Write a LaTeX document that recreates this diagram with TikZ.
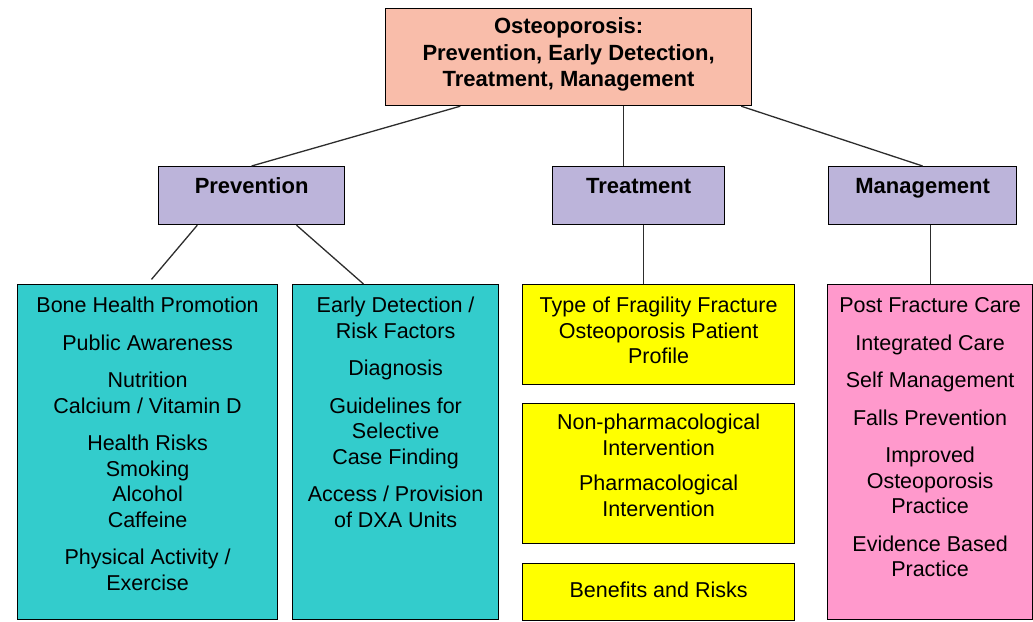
\documentclass[tikz,border=0pt]{standalone}
\usepackage{fontspec}
\setmainfont{Liberation Sans}
\usetikzlibrary{calc}

\definecolor{titlepink}{RGB}{249,189,170}
\definecolor{headpurple}{RGB}{188,180,218}
\definecolor{prevcyan}{RGB}{51,204,204}
\definecolor{treatyellow}{RGB}{255,255,0}
\definecolor{mgmtpink}{RGB}{255,153,204}
\definecolor{linegray}{RGB}{45,45,45}

% box text: [first baseline]{width}{height}{lines}
\newcommand{\boxtext}[4][28pt]{\parbox[t][#3][t]{#2}{\centering\rule{0pt}{#1}#4}}
\newcommand{\grp}{\\[12pt]}

\tikzset{
  box/.style={draw=black, line width=1.2pt, anchor=north west, inner sep=0pt,
    font=\fontsize{21.5}{25.5}\selectfont},
  head/.style={box, font=\fontsize{22}{26.5}\selectfont\bfseries},
  link/.style={draw=linegray, line width=1.3pt}
}

\begin{document}
\begin{tikzpicture}[x=1pt,y=-1pt]
  \useasboundingbox (0,0) rectangle (1033,621);

  \node[head, fill=titlepink] (top) at (385,8)
    {\boxtext[25pt]{366pt}{97pt}{Osteoporosis:\\Prevention, Early Detection,\\Treatment, Management}};

  \node[head, fill=headpurple] (prev)  at (158,166) {\boxtext[27pt]{186pt}{58pt}{Prevention}};
  \node[head, fill=headpurple] (treat) at (552,166) {\boxtext[27pt]{172pt}{58pt}{Treatment}};
  \node[head, fill=headpurple] (mgmt)  at (828,166) {\boxtext[27pt]{188pt}{58pt}{Management}};

  \node[box, fill=prevcyan] (promo) at (17,284)
    {\boxtext{260pt}{335pt}{Bone Health Promotion\grp Public Awareness\grp Nutrition\\Calcium / Vitamin D\grp
      Health Risks\\Smoking\\Alcohol\\Caffeine\grp Physical Activity /\\Exercise}};
  \node[box, fill=prevcyan] (detect) at (292,284)
    {\boxtext{206pt}{335pt}{Early Detection /\\Risk Factors\grp Diagnosis\grp Guidelines for\\Selective\\Case Finding\grp
      Access / Provision\\of DXA Units}};

  \node[box, fill=treatyellow] (fract) at (522,284)
    {\boxtext{272pt}{100pt}{Type of Fragility Fracture\\Osteoporosis Patient\\Profile}};
  \node[box, fill=treatyellow] (interv) at (522,403)
    {\boxtext[26pt]{272pt}{140pt}{Non-pharmacological\\Intervention\\[10pt]Pharmacological\\Intervention}};
  \node[box, fill=treatyellow] (risks) at (522,563)
    {\boxtext[34pt]{272pt}{57pt}{Benefits and Risks}};

  \node[box, fill=mgmtpink] (care) at (827,284)
    {\boxtext{205pt}{335pt}{Post Fracture Care\grp Integrated Care\grp Self Management\grp Falls Prevention\grp
      Improved\\Osteoporosis\\Practice\grp Evidence Based\\Practice}};

  % Lines
  \coordinate (tt) at ($(top.south west)!0.65!(top.south east)$);
  \coordinate (tr) at ($(treat.south west)!0.53!(treat.south east)$);
  \coordinate (mg) at ($(mgmt.south west)!0.54!(mgmt.south east)$);
  \draw[link] ($(top.south west)!0.205!(top.south east)$) -- (prev.north);
  \draw[link] (tt) -- (tt |- treat.north);
  \draw[link] ($(top.south west)!0.97!(top.south east)$) -- (mgmt.north);
  \draw[link, shorten >=6pt] ($(prev.south west)!0.21!(prev.south east)$) -- (promo.north);
  \draw[link] ($(prev.south west)!0.74!(prev.south east)$) -- ($(detect.north west)!0.345!(detect.north east)$);
  \draw[link] (tr) -- (tr |- fract.north);
  \draw[link] (mg) -- (mg |- care.north);

\end{tikzpicture}
\end{document}
